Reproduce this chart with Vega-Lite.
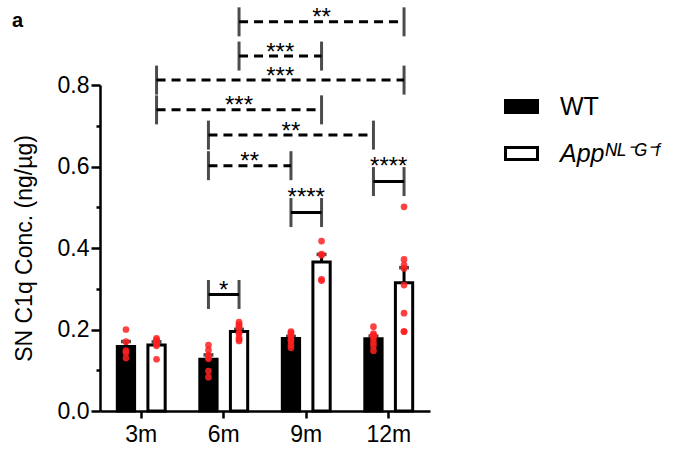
{
  "$schema": "https://vega.github.io/schema/vega-lite/v6.json",
  "width": 330,
  "height": 326,
  "autosize": {"type": "none"},
  "padding": {"left": 100, "top": 85, "right": 252, "bottom": 48},
  "title": {"text": "a", "anchor": "start", "frame": "group", "fontSize": 20, "fontWeight": "bold", "font": "Liberation Sans", "color": "black", "dx": -88, "dy": 29},
  "config": {
    "font": "Liberation Sans",
    "view": {"stroke": null},
    "axis": {
      "grid": false,
      "domainColor": "black",
      "domainWidth": 2.5,
      "tickColor": "black",
      "tickWidth": 2.5,
      "labelColor": "black",
      "labelFont": "Liberation Sans",
      "labelFontSize": 23,
      "titleColor": "black",
      "titleFont": "Liberation Sans",
      "titleFontSize": 23,
      "titleFontWeight": "normal"
    }
  },
  "datasets": {
    "mice": [
      {"age": "3m", "genotype": "WT", "value": 0.200},
      {"age": "3m", "genotype": "WT", "value": 0.170},
      {"age": "3m", "genotype": "WT", "value": 0.148},
      {"age": "3m", "genotype": "WT", "value": 0.143},
      {"age": "3m", "genotype": "WT", "value": 0.130},
      {"age": "3m", "genotype": "AppNL-G-F", "value": 0.178},
      {"age": "3m", "genotype": "AppNL-G-F", "value": 0.174},
      {"age": "3m", "genotype": "AppNL-G-F", "value": 0.170},
      {"age": "3m", "genotype": "AppNL-G-F", "value": 0.164},
      {"age": "3m", "genotype": "AppNL-G-F", "value": 0.160},
      {"age": "3m", "genotype": "AppNL-G-F", "value": 0.127},
      {"age": "6m", "genotype": "WT", "value": 0.162},
      {"age": "6m", "genotype": "WT", "value": 0.150},
      {"age": "6m", "genotype": "WT", "value": 0.137},
      {"age": "6m", "genotype": "WT", "value": 0.132},
      {"age": "6m", "genotype": "WT", "value": 0.128},
      {"age": "6m", "genotype": "WT", "value": 0.098},
      {"age": "6m", "genotype": "WT", "value": 0.083},
      {"age": "6m", "genotype": "AppNL-G-F", "value": 0.218},
      {"age": "6m", "genotype": "AppNL-G-F", "value": 0.212},
      {"age": "6m", "genotype": "AppNL-G-F", "value": 0.209},
      {"age": "6m", "genotype": "AppNL-G-F", "value": 0.205},
      {"age": "6m", "genotype": "AppNL-G-F", "value": 0.192},
      {"age": "6m", "genotype": "AppNL-G-F", "value": 0.190},
      {"age": "6m", "genotype": "AppNL-G-F", "value": 0.180},
      {"age": "6m", "genotype": "AppNL-G-F", "value": 0.176},
      {"age": "6m", "genotype": "AppNL-G-F", "value": 0.172},
      {"age": "9m", "genotype": "WT", "value": 0.195},
      {"age": "9m", "genotype": "WT", "value": 0.192},
      {"age": "9m", "genotype": "WT", "value": 0.188},
      {"age": "9m", "genotype": "WT", "value": 0.184},
      {"age": "9m", "genotype": "WT", "value": 0.176},
      {"age": "9m", "genotype": "WT", "value": 0.172},
      {"age": "9m", "genotype": "WT", "value": 0.162},
      {"age": "9m", "genotype": "WT", "value": 0.155},
      {"age": "9m", "genotype": "AppNL-G-F", "value": 0.417},
      {"age": "9m", "genotype": "AppNL-G-F", "value": 0.385},
      {"age": "9m", "genotype": "AppNL-G-F", "value": 0.382},
      {"age": "9m", "genotype": "AppNL-G-F", "value": 0.323},
      {"age": "9m", "genotype": "AppNL-G-F", "value": 0.320},
      {"age": "12m", "genotype": "WT", "value": 0.207},
      {"age": "12m", "genotype": "WT", "value": 0.190},
      {"age": "12m", "genotype": "WT", "value": 0.186},
      {"age": "12m", "genotype": "WT", "value": 0.184},
      {"age": "12m", "genotype": "WT", "value": 0.177},
      {"age": "12m", "genotype": "WT", "value": 0.168},
      {"age": "12m", "genotype": "WT", "value": 0.160},
      {"age": "12m", "genotype": "WT", "value": 0.148},
      {"age": "12m", "genotype": "AppNL-G-F", "value": 0.501},
      {"age": "12m", "genotype": "AppNL-G-F", "value": 0.372},
      {"age": "12m", "genotype": "AppNL-G-F", "value": 0.358},
      {"age": "12m", "genotype": "AppNL-G-F", "value": 0.350},
      {"age": "12m", "genotype": "AppNL-G-F", "value": 0.309},
      {"age": "12m", "genotype": "AppNL-G-F", "value": 0.240},
      {"age": "12m", "genotype": "AppNL-G-F", "value": 0.195},
      {"age": "12m", "genotype": "AppNL-G-F", "value": 0.195}
    ],
    "brackets": [
      {"id": 1, "age": "6m", "month": 6, "genotype": "AppNL-G-F", "level": 0.955, "label": "**", "kind": "dashed", "pair": "App"},
      {"id": 1, "age": "12m", "month": 12, "genotype": "AppNL-G-F", "level": 0.955, "label": "**", "kind": "dashed", "pair": "App"},
      {"id": 2, "age": "6m", "month": 6, "genotype": "AppNL-G-F", "level": 0.871, "label": "***", "kind": "dashed", "pair": "App"},
      {"id": 2, "age": "9m", "month": 9, "genotype": "AppNL-G-F", "level": 0.871, "label": "***", "kind": "dashed", "pair": "App"},
      {"id": 3, "age": "3m", "month": 3, "genotype": "AppNL-G-F", "level": 0.812, "label": "***", "kind": "dashed", "pair": "App"},
      {"id": 3, "age": "12m", "month": 12, "genotype": "AppNL-G-F", "level": 0.812, "label": "***", "kind": "dashed", "pair": "App"},
      {"id": 4, "age": "3m", "month": 3, "genotype": "AppNL-G-F", "level": 0.739, "label": "***", "kind": "dashed", "pair": "App"},
      {"id": 4, "age": "9m", "month": 9, "genotype": "AppNL-G-F", "level": 0.739, "label": "***", "kind": "dashed", "pair": "App"},
      {"id": 5, "age": "6m", "month": 6, "genotype": "WT", "level": 0.677, "label": "**", "kind": "dashed", "pair": "WT"},
      {"id": 5, "age": "12m", "month": 12, "genotype": "WT", "level": 0.677, "label": "**", "kind": "dashed", "pair": "WT"},
      {"id": 6, "age": "6m", "month": 6, "genotype": "WT", "level": 0.602, "label": "**", "kind": "dashed", "pair": "WT"},
      {"id": 6, "age": "9m", "month": 9, "genotype": "WT", "level": 0.602, "label": "**", "kind": "dashed", "pair": "WT"},
      {"id": 7, "age": "12m", "month": 12, "genotype": "WT", "level": 0.563, "label": "****", "kind": "solid", "pair": "within"},
      {"id": 7, "age": "12m", "month": 12, "genotype": "AppNL-G-F", "level": 0.563, "label": "****", "kind": "solid", "pair": "within"},
      {"id": 8, "age": "9m", "month": 9, "genotype": "WT", "level": 0.487, "label": "****", "kind": "solid", "pair": "within"},
      {"id": 8, "age": "9m", "month": 9, "genotype": "AppNL-G-F", "level": 0.487, "label": "****", "kind": "solid", "pair": "within"},
      {"id": 9, "age": "6m", "month": 6, "genotype": "WT", "level": 0.286, "label": "*", "kind": "solid", "pair": "within"},
      {"id": 9, "age": "6m", "month": 6, "genotype": "AppNL-G-F", "level": 0.286, "label": "*", "kind": "solid", "pair": "within"}
    ]
  },
  "layer": [
    {
      "encoding": {
        "x": {
          "field": "age",
          "type": "nominal",
          "sort": ["3m", "6m", "9m", "12m"],
          "scale": {"paddingInner": 0, "paddingOuter": 0},
          "title": null,
          "axis": {"labelAngle": 0, "tickSize": 7, "labelPadding": 5}
        },
        "xOffset": {
          "field": "genotype",
          "type": "nominal",
          "sort": ["WT", "AppNL-G-F"],
          "scale": {"paddingInner": 0.435, "paddingOuter": 0.566}
        }
      },
      "layer": [
        {
          "data": {"name": "mice"},
          "mark": {"type": "errorbar", "extent": "stderr", "color": "black", "thickness": 3, "size": 10, "ticks": {"size": 10, "thickness": 3.5, "color": "black"}},
          "encoding": {
            "y": {"field": "value", "type": "quantitative", "title": "SN C1q Conc. (ng/µg)", "scale": {"domain": [0, 0.8], "nice": false}}
          }
        },
        {
          "data": {"name": "mice"},
          "mark": {"type": "bar", "stroke": "black", "strokeWidth": 3},
          "encoding": {
            "y": {
              "aggregate": "mean",
              "field": "value",
              "type": "quantitative",
              "title": "SN C1q Conc. (ng/µg)",
              "scale": {"domain": [0, 0.8], "nice": false},
              "axis": {
                "values": [0, 0.1, 0.2, 0.3, 0.4, 0.5, 0.6, 0.7, 0.8],
                "labelExpr": "round(datum.value*10) % 2 == 0 ? format(datum.value, '.1f') : ''",
                "tickSize": {"condition": {"test": "round(datum.value*10) % 2 == 1", "value": 4}, "value": 9},
                "labelPadding": 2,
                "titlePadding": 21
              }
            },
            "fill": {
              "field": "genotype",
              "type": "nominal",
              "scale": {"domain": ["WT", "AppNL-G-F"], "range": ["black", "white"]},
              "legend": {
                "title": null,
                "orient": "none",
                "legendX": 404,
                "legendY": 4,
                "symbolType": "M-1,-0.375H1V0.375H-1Z",
                "symbolSize": 1024,
                "symbolStrokeColor": "black",
                "symbolStrokeWidth": 3,
                "labelFontSize": 25,
                "labelFont": "Liberation Sans",
                "labelColor": "black",
                "labelOffset": 21,
                "labelLimit": 0,
                "rowPadding": 16,
                "labelExpr": "datum.value == 'WT' ? 'WT' : 'Appᴺᴸ⁻ᴳ⁻ᶠ'",
                "encode": {"labels": {"update": {"fontStyle": {"signal": "datum.value == 'WT' ? 'normal' : 'italic'"}}}}
              }
            }
          }
        },
        {
          "data": {"name": "mice"},
          "mark": {"type": "circle", "size": 45, "color": "#ff2020", "opacity": 0.85},
          "encoding": {
            "y": {"field": "value", "type": "quantitative", "title": "SN C1q Conc. (ng/µg)", "scale": {"domain": [0, 0.8], "nice": false}}
          }
        },
        {
          "data": {"name": "brackets"},
          "mark": {"type": "line", "color": "black", "strokeWidth": 3},
          "encoding": {
            "y": {"field": "level", "type": "quantitative", "title": "SN C1q Conc. (ng/µg)", "scale": {"domain": [0, 0.8], "nice": false}},
            "detail": {"field": "id", "type": "nominal"},
            "strokeDash": {"field": "kind", "type": "nominal", "scale": {"domain": ["dashed", "solid"], "range": [[9, 6], [1, 0]]}, "legend": null}
          }
        },
        {
          "data": {"name": "brackets"},
          "mark": {"type": "tick", "orient": "vertical", "size": 29, "thickness": 3, "color": "black"},
          "encoding": {
            "y": {"field": "level", "type": "quantitative", "title": "SN C1q Conc. (ng/µg)", "scale": {"domain": [0, 0.8], "nice": false}}
          }
        }
      ]
    },
    {
      "data": {"name": "brackets"},
      "encoding": {
        "x": {"aggregate": "mean", "field": "month", "type": "quantitative", "scale": {"domain": [1.5, 13.5], "nice": false, "zero": false}, "axis": null},
        "y": {"field": "level", "type": "quantitative", "title": "SN C1q Conc. (ng/µg)", "scale": {"domain": [0, 0.8], "nice": false}},
        "text": {"field": "label"},
        "detail": {"field": "id", "type": "nominal"}
      },
      "layer": [
        {
          "transform": [{"filter": "datum.pair == 'App'"}],
          "mark": {"type": "text", "fontSize": 24, "color": "black", "baseline": "alphabetic", "dx": 15.3, "dy": 3.5}
        },
        {
          "transform": [{"filter": "datum.pair == 'WT'"}],
          "mark": {"type": "text", "fontSize": 24, "color": "black", "baseline": "alphabetic", "dx": -15.3, "dy": 3.5}
        },
        {
          "transform": [{"filter": "datum.pair == 'within' && datum.label == '****'"}],
          "mark": {"type": "text", "fontSize": 24, "color": "black", "baseline": "alphabetic", "dy": -8}
        },
        {
          "transform": [{"filter": "datum.pair == 'within' && datum.label == '*'"}],
          "mark": {"type": "text", "fontSize": 24, "color": "black", "baseline": "alphabetic", "dy": 3.5}
        }
      ]
    }
  ],
  "resolve": {"scale": {"x": "independent"}}
}
